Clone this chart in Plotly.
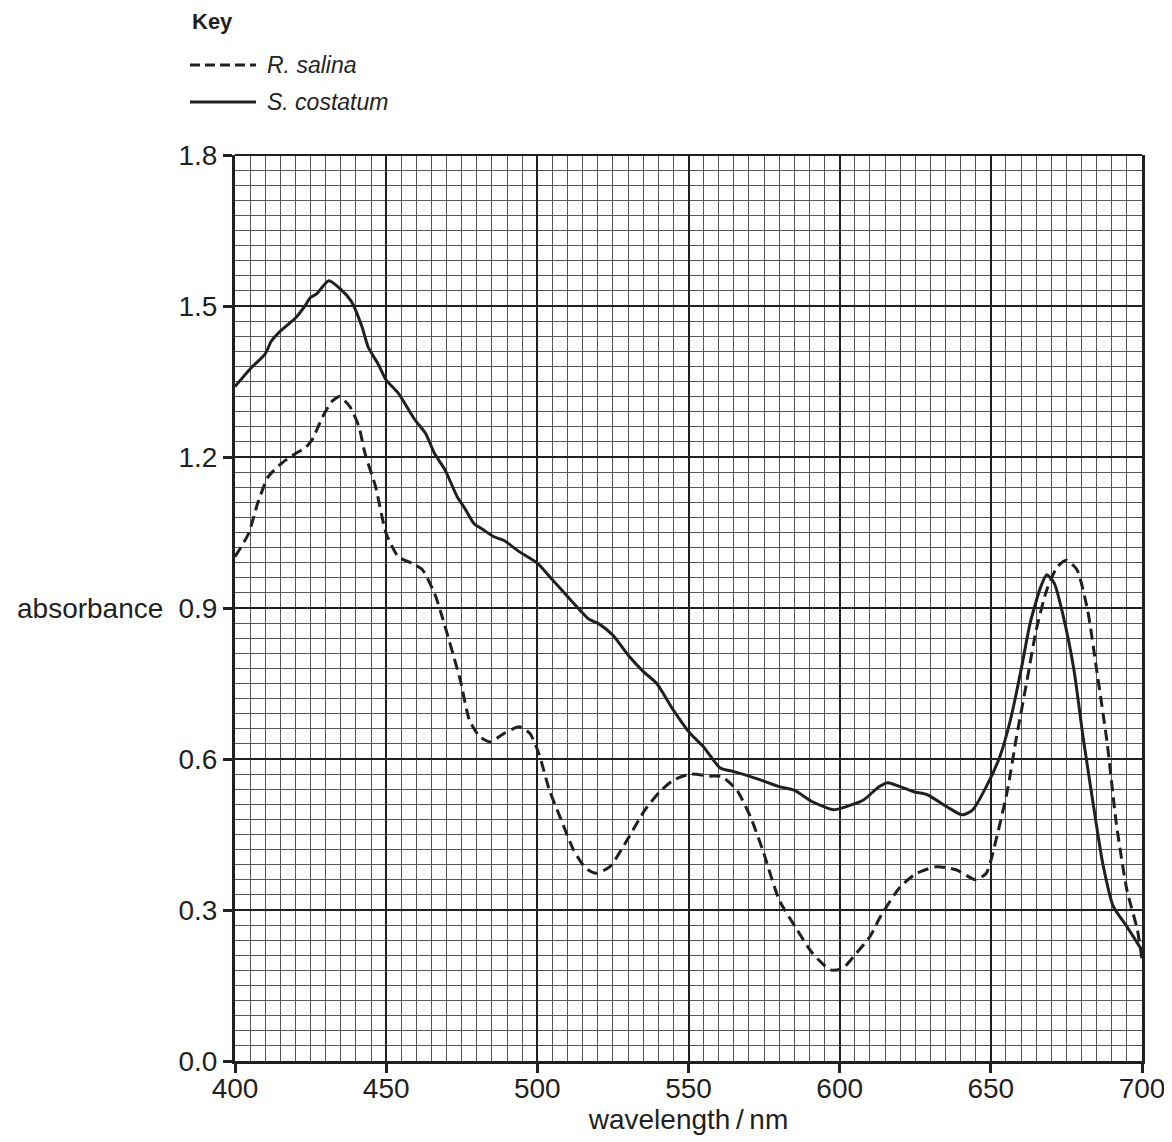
import plotly.graph_objects as go

# S. costatum (solid)
sc_nm = [400, 405, 410, 412, 415, 420, 423, 425, 427, 431, 435, 438.5, 442, 444, 447.5,
         450, 454, 459.5, 463, 466, 469.5, 473.5, 476, 479, 482, 485.5, 489, 494, 500,
         505, 511, 517, 520.5, 525, 530.5, 535, 539.5, 545, 550.5, 555, 560.5, 565, 569,
         574, 580, 585, 591, 598, 602, 608, 613, 616, 620, 624.5, 629, 635.5, 640.5, 644,
         648.5, 653, 656.5, 660, 663, 666.5, 668.5, 671, 674, 677.5, 680.5, 684, 687,
         690.5, 695, 700]
sc_abs = [1.34, 1.375, 1.405, 1.43, 1.45, 1.476, 1.499, 1.517, 1.524, 1.55, 1.533, 1.509,
          1.459, 1.419, 1.383, 1.353, 1.327, 1.274, 1.247, 1.207, 1.174, 1.121, 1.098,
          1.068, 1.056, 1.042, 1.034, 1.012, 0.989, 0.956, 0.916, 0.878, 0.868, 0.846,
          0.803, 0.774, 0.750, 0.697, 0.651, 0.624, 0.582, 0.575, 0.568, 0.558, 0.545,
          0.538, 0.515, 0.499, 0.505, 0.519, 0.545, 0.553, 0.545, 0.535, 0.529, 0.505,
          0.489, 0.499, 0.545, 0.605, 0.678, 0.777, 0.870, 0.942, 0.966, 0.949, 0.883,
          0.777, 0.644, 0.505, 0.393, 0.307, 0.267, 0.22]

# R. salina (dashed)
rs_nm = [400, 404.5, 407.5, 411, 415.5, 420, 423, 425.5, 429, 432, 434.5, 438, 441, 443,
         446.5, 450, 454, 458.5, 462, 466, 468.5, 474.5, 477.5, 481, 484.5, 489, 494,
         497.5, 500.5, 504, 507.5, 512, 516, 519.5, 524, 530, 535.5, 540.5, 545, 550.5,
         557, 561, 566, 570.5, 574.5, 580, 586, 591, 597, 601, 605.5, 610, 613.5, 620,
         625.5, 632, 638.5, 645, 648.5, 652, 655.5, 658.5, 662, 665, 668.5, 672, 675,
         678.5, 682, 685, 688.5, 691.5, 695, 698.5, 700]
rs_abs = [1.002, 1.048, 1.108, 1.161, 1.188, 1.207, 1.217, 1.234, 1.280, 1.310, 1.320,
          1.300, 1.260, 1.207, 1.141, 1.048, 1.002, 0.989, 0.976, 0.929, 0.883, 0.757,
          0.678, 0.644, 0.634, 0.651, 0.664, 0.651, 0.611, 0.538, 0.485, 0.419, 0.383,
          0.373, 0.386, 0.442, 0.498, 0.535, 0.558, 0.570, 0.566, 0.565, 0.538, 0.485,
          0.420, 0.320, 0.260, 0.214, 0.181, 0.184, 0.214, 0.247, 0.287, 0.346, 0.373,
          0.386, 0.380, 0.360, 0.373, 0.446, 0.538, 0.644, 0.757, 0.856, 0.936, 0.982,
          0.995, 0.976, 0.896, 0.777, 0.631, 0.472, 0.340, 0.260, 0.201]

x_ticks = [400, 450, 500, 550, 600, 650, 700]
y_ticks = [0.0, 0.3, 0.6, 0.9, 1.2, 1.5, 1.8]

INK = "#231f20"
FONT = "Liberation Sans, Arial, sans-serif"

fig = go.Figure()
fig.add_trace(go.Scatter(x=rs_nm, y=rs_abs, mode="lines", name="R. salina",
                         line=dict(color=INK, width=3, dash="11px,6px", shape="spline", smoothing=0.6)))
fig.add_trace(go.Scatter(x=sc_nm, y=sc_abs, mode="lines", name="S. costatum",
                         line=dict(color=INK, width=3, shape="spline", smoothing=0.6)))

# the page body adds an 8px offset, so the figure is sized to fit the window
fig.update_layout(
    width=1164, height=1134,
    margin=dict(l=227, r=30, t=147, b=81),
    paper_bgcolor="white", plot_bgcolor="white",
    showlegend=False,
    font=dict(family=FONT, color=INK, size=28),
)

fig.update_xaxes(
    range=[400, 700], tickvals=x_ticks, ticktext=[str(v) for v in x_ticks],
    showgrid=True, gridcolor=INK, gridwidth=1.5,
    minor=dict(dtick=5, showgrid=True, gridcolor="#555555", gridwidth=1, ticks=""),
    showline=True, linecolor=INK, linewidth=3, mirror=False,
    ticks="outside", ticklen=9, tickwidth=2.5, tickcolor=INK,
    tickfont=dict(size=28), zeroline=False, automargin=False,
    ticklabelstandoff=-9,
    title=dict(text="wavelength\u2009/\u2009nm", font=dict(size=28), standoff=0),
)
fig.update_yaxes(
    range=[0, 1.8], tickvals=y_ticks, ticktext=[f"{v:.1f}" for v in y_ticks],
    showgrid=True, gridcolor=INK, gridwidth=1.5,
    minor=dict(dtick=0.03, showgrid=True, gridcolor="#555555", gridwidth=1, ticks=""),
    showline=True, linecolor=INK, linewidth=3, mirror=True,
    ticks="outside", ticklen=9, tickwidth=2.5, tickcolor=INK,
    tickfont=dict(size=28), zeroline=False, automargin=False,
)

# top frame line
fig.add_shape(type="line", xref="paper", yref="paper", x0=0, x1=1, y0=1, y1=1,
              line=dict(color=INK, width=2))

# y-axis label
fig.add_annotation(text="absorbance", xref="paper", yref="y", x=0, y=0.9,
                   xanchor="right", yanchor="middle", xshift=-70, showarrow=False,
                   font=dict(size=28, family=FONT, color=INK))

# Key
fig.add_annotation(text="<b>Key</b>", xref="paper", yref="paper", x=-0.0496, y=1.1468,
                   xanchor="left", yanchor="middle", showarrow=False,
                   font=dict(size=22, family=FONT, color=INK))
fig.add_shape(type="line", xref="paper", yref="paper", x0=-0.0496, x1=0.0232,
              y0=1.0993, y1=1.0993, line=dict(color=INK, width=3, dash="10px,5px"))
fig.add_shape(type="line", xref="paper", yref="paper", x0=-0.0496, x1=0.0232,
              y0=1.0585, y1=1.0585, line=dict(color=INK, width=3))
fig.add_annotation(text="<i>R. salina</i>", xref="paper", yref="paper", x=0.0331, y=1.0993,
                   xanchor="left", yanchor="middle", showarrow=False,
                   font=dict(size=23, family=FONT, color=INK))
fig.add_annotation(text="<i>S. costatum</i>", xref="paper", yref="paper", x=0.0331, y=1.0585,
                   xanchor="left", yanchor="middle", showarrow=False,
                   font=dict(size=23, family=FONT, color=INK))

fig.write_html("out.html")
